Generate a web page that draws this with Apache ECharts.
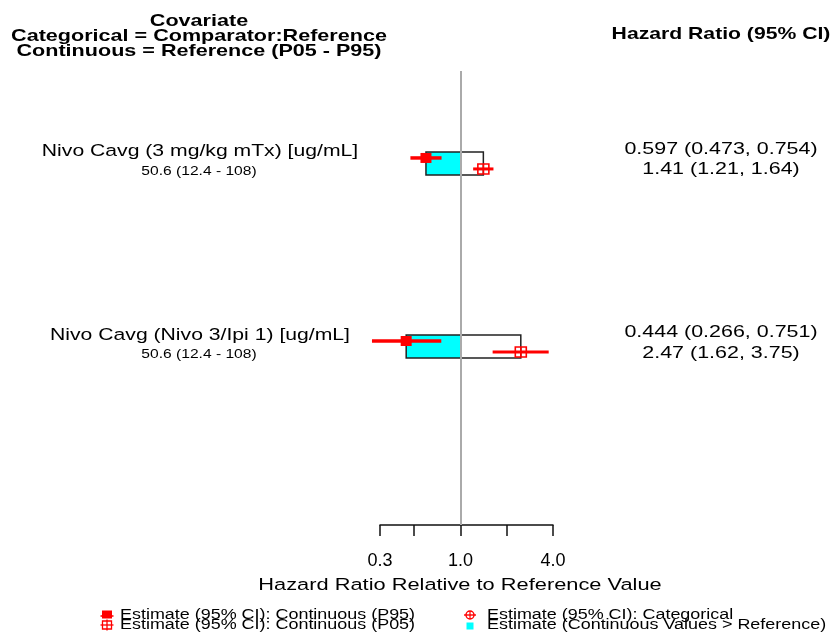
<!DOCTYPE html>
<html>
<head>
<meta charset="utf-8">
<script src="https://cdn.jsdelivr.net/npm/echarts@6/dist/echarts.min.js"></script>
<style>
  html, body { margin: 0; padding: 0; background: #ffffff; }
  #chart { width: 836px; height: 636px; }
</style>
</head>
<body>
<div id="chart"></div>
<script>
// Hazard ratios at the P95 and P05 exposure, each relative to the reference exposure
const covariates = ['Nivo Cavg (3 mg/kg mTx) [ug/mL]', 'Nivo Cavg (Nivo 3/Ipi 1) [ug/mL]'];
const referenceRanges = ['50.6 (12.4 - 108)', '50.6 (12.4 - 108)'];
const p95Estimate = [0.597, 0.444];
const p95Lower = [0.473, 0.266];
const p95Upper = [0.754, 0.751];
const p05Estimate = [1.41, 2.47];
const p05Lower = [1.21, 1.62];
const p05Upper = [1.64, 3.75];

const tickValues = [0.3, 0.5, 1, 2, 4];
const tickLabelValues = [0.3, 1, 4];

const headerLines = ['Covariate', 'Categorical = Comparator:Reference', 'Continuous = Reference (P05 - P95)'];
const estimateHeader = 'Hazard Ratio (95% CI)';
const axisTitle = 'Hazard Ratio Relative to Reference Value';
const legendNames = [
  'Estimate (95% CI): Continuous (P95)',
  'Estimate (95% CI): Continuous (P05)',
  'Estimate (95% CI): Categorical',
  'Estimate (Continuous Values > Reference)'
];

// ---- styling ----
const RED = '#ff0000';
const CYAN = '#00ffff';
const FONT = 'Liberation Sans';
const SX = 1.3;            // text is drawn horizontally widened
const BOX_HALF = 0.063;    // half height of the estimate box (y units)
const MARK_SHIFT = 0.03;   // P95 above / P05 below the row centre (y units)

const ln = Math.log;
const rows = covariates.map((_, i) => i + 1);
const ciText = (e, l, u) => `${e} (${l}, ${u})`;

function txt(x, y, text, size, weight, align) {
  return {
    type: 'text', x: x, y: y, scaleX: SX, silent: true,
    style: {
      text: text, fontFamily: FONT, fontSize: size, fontWeight: weight || 'normal',
      fill: '#000', textAlign: align || 'center', textVerticalAlign: 'middle',
      align: align || 'center', verticalAlign: 'middle'
    }
  };
}

const chart = echarts.init(document.getElementById('chart'), null, { renderer: 'canvas' });

// box: from P95 estimate to P05 estimate, cyan from P95 estimate to 1
const boxData = rows.map((r, i) => [ln(p95Estimate[i]), ln(p05Estimate[i]), r]);
const p95Data = rows.map((r, i) => [ln(p95Estimate[i]), ln(p95Lower[i]), ln(p95Upper[i]), r]);
const p05Data = rows.map((r, i) => [ln(p05Estimate[i]), ln(p05Lower[i]), ln(p05Upper[i]), r]);
const labelData = rows.map((r) => [0, r]);

function renderBox(params, api) {
  const y = api.value(2);
  const a = api.coord([api.value(0), y - BOX_HALF]);
  const b = api.coord([api.value(1), y + BOX_HALF]);
  const ref = api.coord([0, y]);
  const left = Math.min(a[0], b[0]);
  const right = Math.max(a[0], b[0]);
  const top = a[1], h = b[1] - a[1];
  const cx0 = Math.min(a[0], ref[0]);
  const cw = Math.abs(ref[0] - a[0]);
  return {
    type: 'group',
    children: [
      { type: 'rect', shape: { x: cx0, y: top, width: cw, height: h }, style: { fill: CYAN } },
      { type: 'rect', shape: { x: left, y: top, width: right - left, height: h },
        style: { fill: 'none', stroke: '#222', lineWidth: 1.5 } }
    ]
  };
}

function renderP95(params, api) {
  const y = api.value(3) - MARK_SHIFT;
  const e = api.coord([api.value(0), y]);
  const lo = api.coord([api.value(1), y]);
  const hi = api.coord([api.value(2), y]);
  return {
    type: 'group',
    children: [
      { type: 'line', shape: { x1: lo[0], y1: lo[1], x2: hi[0], y2: hi[1] }, style: { stroke: RED, lineWidth: 3.5 } },
      { type: 'rect', shape: { x: e[0] - 5.5, y: e[1] - 5, width: 11, height: 10 }, style: { fill: RED } }
    ]
  };
}

function renderP05(params, api) {
  const y = api.value(3) + MARK_SHIFT;
  const e = api.coord([api.value(0), y]);
  const lo = api.coord([api.value(1), y]);
  const hi = api.coord([api.value(2), y]);
  return {
    type: 'group',
    children: [
      { type: 'line', shape: { x1: lo[0], y1: lo[1], x2: hi[0], y2: hi[1] }, style: { stroke: RED, lineWidth: 3 } },
      { type: 'rect', shape: { x: e[0] - 5.5, y: e[1] - 5, width: 11, height: 10 },
        style: { fill: 'none', stroke: RED, lineWidth: 1.6 } },
      { type: 'line', shape: { x1: e[0], y1: e[1] - 5, x2: e[0], y2: e[1] + 5 }, style: { stroke: RED, lineWidth: 1.6 } }
    ]
  };
}

function renderLabels(params, api) {
  const i = params.dataIndex;
  const y = api.coord([0, api.value(1)])[1];
  return {
    type: 'group',
    children: [
      txt(200, y - 11.5, covariates[i], 16.3),
      txt(199, y + 8.5, referenceRanges[i], 12),
      txt(721, y - 14, ciText(p95Estimate[i], p95Lower[i], p95Upper[i]), 16.5),
      txt(721, y + 6.5, ciText(p05Estimate[i], p05Lower[i], p05Upper[i]), 16.5)
    ]
  };
}

// legend drawn as shapes + widened text
const legendGraphics = [
  { type: 'rect', shape: { x: 102, y: 610.5, width: 10, height: 8 }, style: { fill: RED } },
  { type: 'line', shape: { x1: 100.5, y1: 616, x2: 113.5, y2: 616 }, style: { stroke: RED, lineWidth: 1.5 } },
  { type: 'rect', shape: { x: 102.5, y: 621, width: 9, height: 8 }, style: { fill: 'none', stroke: RED, lineWidth: 1.3 } },
  { type: 'line', shape: { x1: 100.5, y1: 625, x2: 113.5, y2: 625 }, style: { stroke: RED, lineWidth: 1.3 } },
  { type: 'line', shape: { x1: 107, y1: 619.5, x2: 107, y2: 630.5 }, style: { stroke: RED, lineWidth: 1.3 } },
  { type: 'circle', shape: { cx: 470, cy: 615, r: 4 }, style: { fill: 'none', stroke: RED, lineWidth: 1.4 } },
  { type: 'line', shape: { x1: 464, y1: 615, x2: 476, y2: 615 }, style: { stroke: RED, lineWidth: 1.4 } },
  { type: 'line', shape: { x1: 470, y1: 611, x2: 470, y2: 619 }, style: { stroke: RED, lineWidth: 1.2 } },
  { type: 'rect', shape: { x: 466.5, y: 622.5, width: 7, height: 7 }, style: { fill: CYAN } },
  txt(120, 615.3, legendNames[0], 13.8, 'normal', 'left'),
  txt(120, 625, legendNames[1], 13.8, 'normal', 'left'),
  txt(487, 615.3, legendNames[2], 13.8, 'normal', 'left'),
  txt(487, 625, legendNames[3], 13.8, 'normal', 'left')
];

const option = {
  animation: false,
  backgroundColor: '#ffffff',
  grid: { left: 380, right: 283, top: 71, bottom: 111 },
  xAxis: {
    type: 'value',
    min: ln(tickValues[0]),
    max: ln(tickValues[tickValues.length - 1]),
    splitLine: { show: false },
    axisLine: { show: true, lineStyle: { color: '#111', width: 1.5 } },
    axisTick: { show: true, length: 11, lineStyle: { color: '#111', width: 1.5 },
      customValues: tickValues.map(ln) },
    axisLabel: {
      show: true, customValues: tickLabelValues.map(ln), margin: 27,
      fontFamily: FONT, fontSize: 18, color: '#000',
      formatter: (v) => Math.exp(v).toFixed(1)
    }
  },
  yAxis: {
    type: 'value', min: 0.495, max: 2.975, inverse: true, show: false
  },
  series: [
    {
      name: legendNames[3], type: 'custom', renderItem: renderBox, data: boxData,
      encode: { x: [0, 1], y: 2 }, clip: false, silent: true, z: 2,
      markLine: {
        silent: true, symbol: ['none', 'none'], label: { show: false }, z: 3,
        lineStyle: { color: '#aaaaaa', width: 2, type: 'solid' },
        data: [{ xAxis: 0 }]
      }
    },
    {
      name: legendNames[0], type: 'custom', renderItem: renderP95, data: p95Data,
      encode: { x: [0, 1, 2], y: 3 }, clip: false, silent: true, z: 4
    },
    {
      name: legendNames[1], type: 'custom', renderItem: renderP05, data: p05Data,
      encode: { x: [0, 1, 2], y: 3 }, clip: false, silent: true, z: 4
    },
    {
      name: 'labels', type: 'custom', renderItem: renderLabels, data: labelData,
      encode: { x: 0, y: 1 }, clip: false, silent: true, z: 5
    }
  ],
  graphic: [
    txt(199, 21, headerLines[0], 16.6, 'bold'),
    txt(199, 36, headerLines[1], 16.6, 'bold'),
    txt(199, 51, headerLines[2], 16.6, 'bold'),
    txt(721, 35, estimateHeader, 16.3, 'bold'),
    txt(460, 585, axisTitle, 16.8)
  ].concat(legendGraphics)
};

chart.setOption(option);
</script>
</body>
</html>
